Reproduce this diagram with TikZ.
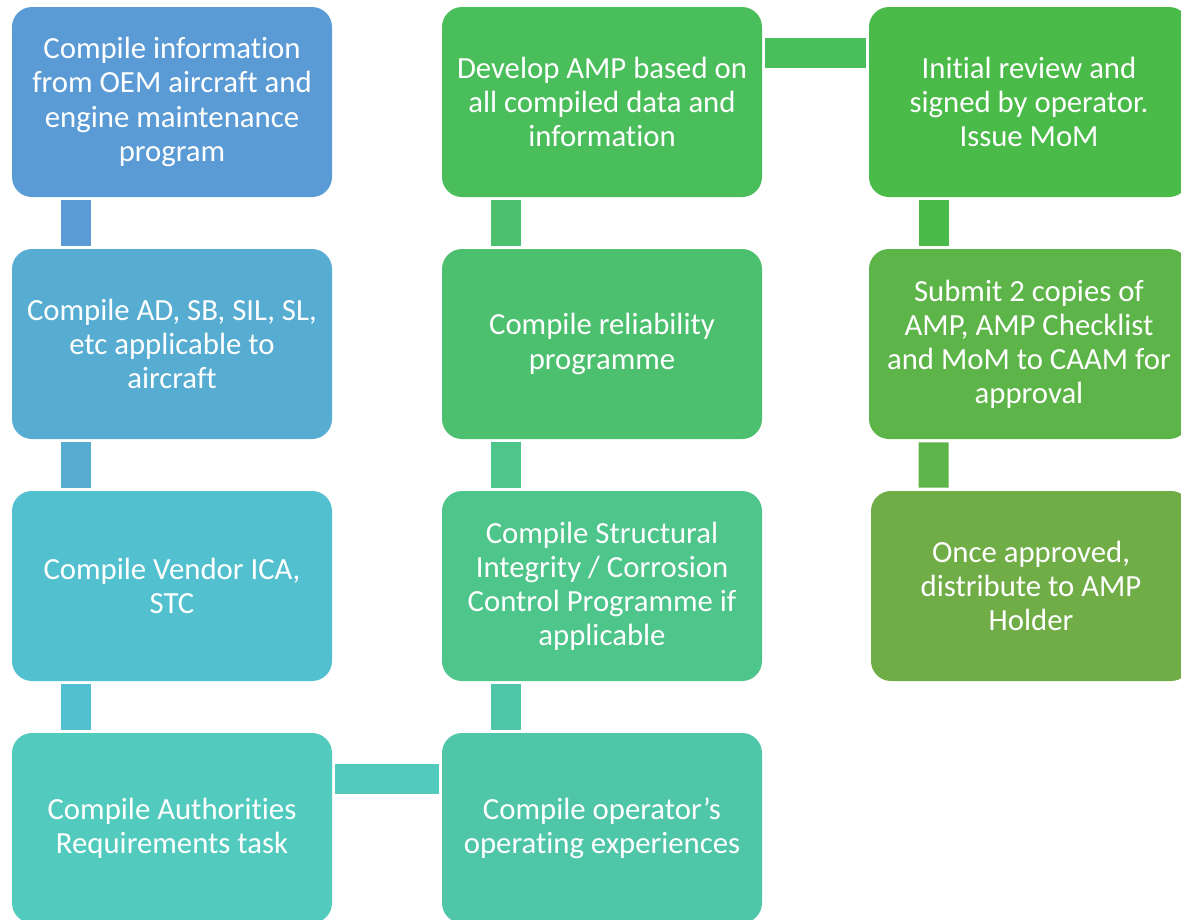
\documentclass[tikz,border=0pt]{standalone}
\usepackage{fontspec}
\setmainfont[Ligatures=NoCommon]{Carlito}
\definecolor{stepA}{RGB}{91, 155, 213}
\definecolor{stepB}{RGB}{86, 172, 209}
\definecolor{stepC}{RGB}{83, 192, 207}
\definecolor{stepD}{RGB}{82, 203, 190}
\definecolor{stepE}{RGB}{80, 198, 168}
\definecolor{stepF}{RGB}{78, 197, 138}
\definecolor{stepG}{RGB}{77, 192, 111}
\definecolor{stepH}{RGB}{75, 190, 92}
\definecolor{stepI}{RGB}{74, 186, 72}
\definecolor{stepJ}{RGB}{93, 180, 72}
\definecolor{stepK}{RGB}{112, 173, 71}
\usetikzlibrary{positioning}

\begin{document}
\begin{tikzpicture}[
    stepbox/.style={rounded corners=0.4cm, minimum width=6.4cm, minimum height=3.8cm,
      inner sep=0pt, text=white, align=center, font=\fontsize{17.5}{19.4}\selectfont},
    link/.style={line width=0.6cm, shorten <=0.06cm, shorten >=0.06cm}
  ]
  \useasboundingbox (0, 0) rectangle (23.62, -18.38);
  \clip (0, 0) rectangle (23.62, -18.38);

  % Left column
  \node[stepbox, fill=stepA] (oem) at (3.44, -2.04) {Compile information\\from OEM aircraft and\\engine maintenance\\program};
  \node[stepbox, fill=stepB] (adsb) at (3.44, -6.88) {Compile AD, SB, SIL, SL,\\etc applicable to\\aircraft};
  \node[stepbox, fill=stepC] (vendor) at (3.44, -11.72) {Compile Vendor ICA,\\STC};
  \node[stepbox, fill=stepD] (authreq) at (3.44, -16.56) {Compile Authorities\\Requirements task};

  % Middle column
  \node[stepbox, fill=stepE] (opexp) at (12.04, -16.56) {Compile operator’s\\operating experiences};
  \node[stepbox, fill=stepF] (struct) at (12.04, -11.72) {Compile Structural\\Integrity / Corrosion\\Control Programme if\\applicable};
  \node[stepbox, fill=stepG] (reliab) at (12.04, -6.88) {Compile reliability\\programme};
  \node[stepbox, fill=stepH] (develop) at (12.04, -2.04) {Develop AMP based on\\all compiled data and\\information};

  % Right column
  \node[stepbox, fill=stepI] (review) at (20.58, -2.04) {Initial review and\\signed by operator.\\Issue MoM};
  \node[stepbox, fill=stepJ] (submit) at (20.58, -6.88) {Submit 2 copies of\\AMP, AMP Checklist\\and MoM to CAAM for\\approval};
  \node[stepbox, fill=stepK] (approved) at (20.62, -11.72) {Once approved,\\distribute to AMP\\Holder};

  % Links
  \draw[link, stepA] ([xshift=1.28cm]oem.south west) -- ([xshift=1.28cm]adsb.north west);
  \draw[link, stepB] ([xshift=1.28cm]adsb.south west) -- ([xshift=1.28cm]vendor.north west);
  \draw[link, stepC] ([xshift=1.28cm]vendor.south west) -- ([xshift=1.28cm]authreq.north west);
  \draw[link, stepD] ([yshift=-0.92cm]authreq.north east) -- ([yshift=-0.92cm]opexp.north west);
  \draw[link, stepE] ([xshift=1.28cm]opexp.north west) -- ([xshift=1.28cm]struct.south west);
  \draw[link, stepF] ([xshift=1.28cm]struct.north west) -- ([xshift=1.28cm]reliab.south west);
  \draw[link, stepG] ([xshift=1.28cm]reliab.north west) -- ([xshift=1.28cm]develop.south west);
  \draw[link, stepH] ([yshift=-0.92cm]develop.north east) -- ([yshift=-0.92cm]review.north west);
  \draw[link, stepI] ([xshift=1.3cm]review.south west) -- ([xshift=1.3cm]submit.north west);
  \draw[link, stepJ] ([xshift=1.3cm]submit.south west) -- ([xshift=1.26cm]approved.north west);
\end{tikzpicture}
\end{document}
